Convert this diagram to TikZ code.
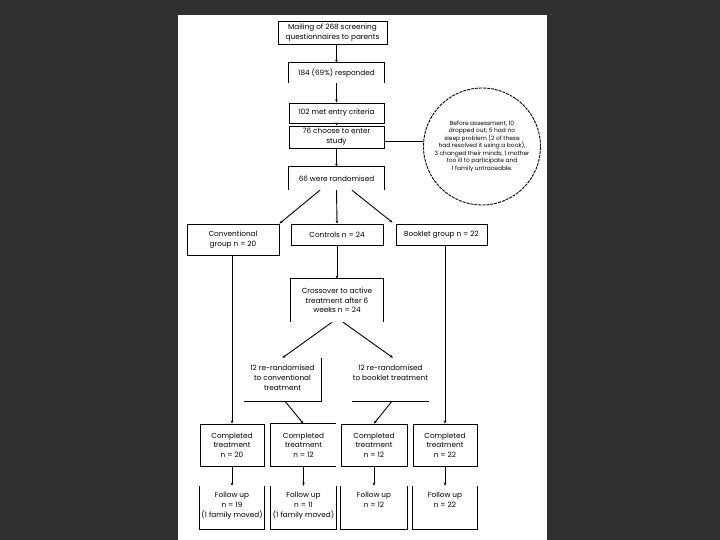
\documentclass[tikz,border=0pt]{standalone}
\usepackage{fontspec}
\setmainfont{Poppins}
\usetikzlibrary{arrows.meta,calc}
\definecolor{bg}{RGB}{48,48,48}
\begin{document}
\begin{tikzpicture}[x=1pt,y=-1pt,
  bx/.style={rectangle,inner sep=0pt,align=center,font=\fontsize{7.3}{9.7}\selectfont},
  fullbox/.style={bx,draw,line width=0.9pt},
  edge/.style={line width=0.9pt},
  arr/.style={edge,-{Stealth[length=3.2pt,width=2.6pt]}},
  circnote/.style={circle,draw,line width=0.9pt,dash pattern=on 3pt off 1pt,minimum size=117pt,inner sep=0pt,align=center,font=\fontsize{5.9}{7.5}\selectfont}]
\useasboundingbox (0,0) rectangle (720,540);
\fill[bg] (0,0) rectangle (720,540);
\fill[white] (178,15) rectangle (547,540);

% main column
\node[fullbox,minimum width=109pt,minimum height=23pt] (m1) at (332.5,32.5) {Mailing of 268 screening\\questionnaires to parents};
\node[bx,minimum width=95pt,minimum height=20pt] (m2) at (336.5,73) {184 (69\%) responded};
\node[fullbox,minimum width=95pt,minimum height=20pt] (m3) at (336.5,113) {102 met entry criteria};
\node[fullbox,minimum width=95pt,minimum height=22pt] (m4) at (336.5,137) {76 choose to enter\\study};
\node[bx,minimum width=95pt,minimum height=23pt] (m5) at (336.5,178.5) {66 were randomised};
\node[circnote] (note) at (482,146.5) {Before assessment, 10\\dropped out; 5 had no\\sleep problem (2 of these\\had resolved it using a book),\\3 changed their minds; 1 mother\\too ill to participate and\\1 family untraceable.};

% groups
\node[fullbox,minimum width=92pt,minimum height=31pt] (conv) at (233,239.5) {Conventional\\group n = 20};
\node[fullbox,minimum width=92pt,minimum height=21pt] (ctrl) at (337,234.5) {Controls n = 24};
\node[fullbox,minimum width=91pt,minimum height=21pt] (book) at (441.5,234.5) {Booklet group n = 22};
\node[bx,minimum width=92pt,minimum height=43pt] (cross) at (337,300.5) {Crossover to active\\treatment after 6\\weeks n = 24};
\node[bx,minimum width=77pt,minimum height=43pt] (rl) at (282.5,379.5) {};
\node[bx,anchor=north] (rltext) at (282.5,365) {12 re-randomised\\to conventional\\treatment};
\node[bx,minimum width=77pt,minimum height=43pt] (rr) at (390.5,379.5) {};
\node[bx,anchor=north] (rrtext) at (390.5,365) {12 re-randomised\\to booklet treatment};

% completed
\node[fullbox,minimum width=64pt,minimum height=42pt] (ca) at (232,445) {Completed\\treatment\\n = 20};
\node[bx,minimum width=65pt,minimum height=42pt] (cb) at (303.5,445) {Completed\\treatment\\n = 12};
\node[fullbox,minimum width=66pt,minimum height=42pt] (cc) at (374,445) {Completed\\treatment\\n = 12};
\node[fullbox,minimum width=64pt,minimum height=42pt] (cd) at (445,445) {Completed\\treatment\\n = 22};

% follow up
\node[bx,minimum width=64pt,minimum height=43pt] (fa) at (232,507.5) {};
\node[bx,minimum width=65pt,minimum height=43pt] (fb) at (303.5,507.5) {};
\node[bx,minimum width=66pt,minimum height=43pt] (fc) at (374,507.5) {};
\node[bx,minimum width=64pt,minimum height=43pt] (fd) at (445,507.5) {};
\node[bx,anchor=north] (fat) at (232,492) {Follow up\\n = 19\\(1 family moved)};
\node[bx,anchor=north] (fbt) at (303.5,492) {Follow up\\n = 11\\(1 family moved)};
\node[bx,anchor=north] (fct) at (374,492) {Follow up\\n = 12};
\node[bx,anchor=north] (fdt) at (445,492) {Follow up\\n = 22};

% partial borders (as printed)
\draw[edge] (m2.south west) -- (m2.north west) -- (m2.north east) -- (m2.south east);
\draw[edge] (m5.south west) -- (m5.north west) -- (m5.north east) -- (m5.south east);
\draw[edge] (cross.south west) -- (cross.north west) -- (cross.north east) -- (cross.south east);
\draw[edge] (rl.north east) -- (rl.south east) -- (rl.south west);
\draw[edge] (rr.south west) -- (rr.south east);
\draw[edge] (cb.north east) -- (cb.north west) -- (cb.south west) -- (cb.south east);
\foreach \f in {fa,fb,fc,fd}
  \draw[edge] (\f.north west) -- (\f.south west) -- (\f.south east) -- (\f.north east);

% connectors
\draw[arr] (m2.north |- m1.south) -- (m2.north);
\draw[arr] (m2.south) -- (m3.north);
\draw[arr] (m3.south) -- (m4.north);
\draw[arr] (m4.south) -- (m5.north);
\draw[edge] (m4.east) ++(0,4) coordinate (m4e) -- (m4e -| note.west);
\draw[arr] ($(m5.south)+(-16.5,0)$) -- (conv.north east);
\draw[arr] (m5.south) -- (ctrl.north);
\draw[arr] ($(m5.south)+(15.5,0)$) -- ($(book.north west)+(-3,-1)$);
\draw[arr] (ctrl.south) -- (cross.north);
\draw[arr] ($(cross.south)+(-5,0)$) -- (rl.north);
\draw[arr] ($(cross.south)+(6,0)$) -- ($(rr.north)+(2.5,0)$);
\draw[arr] ($(rl.south)+(2.5,0)$) -- (cb.north);
\draw[arr] ($(rr.south)+(1.5,0)$) -- (cc.north);
\draw[arr] (ca.north |- conv.south) -- (ca.north);
\draw[arr] (cd.north |- book.south) -- (cd.north);
\draw[arr] (ca.south) -- (fa.north);
\draw[arr] (cb.south) -- (fb.north);
\draw[arr] (cc.south) -- (fc.north);
\draw[arr] (cd.south) -- (fd.north);
\end{tikzpicture}
\end{document}
